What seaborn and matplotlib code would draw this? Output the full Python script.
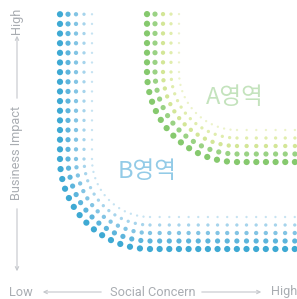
import matplotlib
matplotlib.use("Agg")
import matplotlib.pyplot as plt
import numpy as np
import pandas as pd
import seaborn as sns

sns.set_theme(style="white")
plt.rcParams["font.family"] = ["Liberation Sans Narrow", "Roboto", "DejaVu Sans"]

# ring 0 = outer edge of the band, ring 4 = inner edge
rings = [0, 1, 2, 3, 4]
ring_offsets = [0, 8, 16, 24, 32]            # px inward from the outer line
ring_diameters = [6.2, 5.2, 4.3, 3.3, 2.3]   # dot diameter, px
blue_colors = ["#3ea9d3", "#5db5dc", "#82c4e4", "#a6d4ec", "#c6e3f2"]
green_colors = ["#86c96e", "#9ad284", "#d3e697", "#e0edad", "#ecf3c9"]

# corner geometry of each band (pixel space, y down)
shapes = {
    "B": dict(x0=60, y0=249, cx=150, cy=159),
    "A": dict(x0=147, y0=162, cx=237, cy=72),
}
top_row = 14
step = 9.65
right_edge = 297
arc_steps = 14

region_labels = ["A영역", "B영역"]
x_axis_labels = ["Low", "Social Concern", "High"]
y_axis_labels = ["High", "Business Impact", "Low"]


def band_points(x0, y0, cx, cy):
    rows = []
    for ring, off in zip(rings, ring_offsets):
        r = (cx - x0) - off
        # vertical leg, counted upward from the corner
        for y in np.arange(cy, top_row - 1, -step):
            rows.append((x0 + off, y, ring))
        # rounded corner, dots aligned on rays
        for t in np.linspace(0, np.pi / 2, arc_steps + 1)[1:-1]:
            rows.append((cx - r * np.cos(t), cy + r * np.sin(t), ring))
        # horizontal leg
        for x in np.arange(cx, right_edge + 2, step):
            rows.append((x, y0 - off, ring))
    return pd.DataFrame(rows, columns=["x", "y", "ring"])


W, H = 297, 299
fig = plt.figure(figsize=(W / 100, H / 100), dpi=100)
ax = fig.add_axes([0, 0, 1, 1])
ax.set_xlim(0, W)
ax.set_ylim(H, 0)
ax.axis("off")

px2pt = 72 / 100
size_map = {r: (d * px2pt) ** 2 for r, d in zip(rings, ring_diameters)}
for key, colors in [("B", blue_colors), ("A", green_colors)]:
    pts = band_points(**shapes[key])
    sns.scatterplot(
        data=pts, x="x", y="y", hue="ring", size="ring",
        palette=dict(zip(rings, colors)), sizes=size_map,
        linewidth=0, legend=False, ax=ax,
    )

kr = ["Noto Sans CJK KR", "DejaVu Sans"]
ax.text(235, 97, region_labels[0], ha="center", va="center", fontsize=17,
        color="#c4e3bd", family=kr)
ax.text(147, 172, region_labels[1], ha="center", va="center", fontsize=17,
        color="#93cbe7", family=kr)

txt = "#a9adb2"
arr = dict(arrowstyle="->", color="#c4c7cb", lw=0.8, mutation_scale=6)
fs = 9.2
ax.text(21, 292, x_axis_labels[0], ha="center", va="center", fontsize=fs, color=txt)
ax.text(153, 292, x_axis_labels[1], ha="center", va="center", fontsize=fs, color=txt)
ax.text(284, 292, x_axis_labels[2], ha="center", va="center", fontsize=fs, color=txt)
ax.annotate("", xy=(40, 292), xytext=(104, 292), arrowprops=arr)
ax.annotate("", xy=(264, 292), xytext=(199, 292), arrowprops=arr)

ax.text(17, 21, y_axis_labels[0], ha="center", va="center", rotation=90, fontsize=fs, color=txt)
ax.text(17, 153, y_axis_labels[1], ha="center", va="center", rotation=90, fontsize=fs, color=txt)
ax.annotate("", xy=(17, 33), xytext=(17, 101), arrowprops=arr)
ax.annotate("", xy=(17, 274), xytext=(17, 206), arrowprops=arr)

fig.savefig("out.png", dpi=100)
